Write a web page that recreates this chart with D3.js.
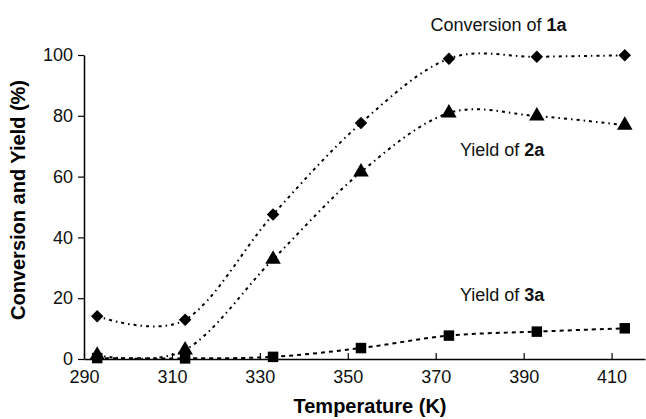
<!DOCTYPE html>
<html>
<head>
<meta charset="utf-8">
<script src="https://cdn.jsdelivr.net/npm/d3@7"></script>
<style>
  body { margin: 0; background: #fff; }
  svg { display: block; font-family: "Liberation Sans", Arial, sans-serif; }
</style>
</head>
<body>
<svg id="chart" width="646" height="419"></svg>
<script>
// data
const temps = [293, 313, 333, 353, 373, 393, 413];
const conv1a = [14.1, 12.9, 47.5, 77.6, 98.8, 99.4, 99.9];
const yield2a = [1.2, 3.0, 32.8, 61.5, 80.9, 79.9, 76.9];
const yield3a = [0.3, 0.2, 0.7, 3.6, 7.7, 9.0, 10.1];
const xTicks = [290, 310, 330, 350, 370, 390, 410];
const yTicks = [0, 20, 40, 60, 80, 100];

const svg = d3.select("#chart");

const x = d3.scaleLinear().domain([290, 417.6]).range([84, 645]);
const y = d3.scaleLinear().domain([0, 100]).range([359, 55]);

// axes
const xAxis = svg.append("g")
  .attr("transform", "translate(0," + y(0) + ")")
  .call(d3.axisBottom(x).tickValues(xTicks).tickSizeInner(-6).tickSizeOuter(0).tickPadding(11));
const yAxis = svg.append("g")
  .attr("transform", "translate(" + x(290) + ",0)")
  .call(d3.axisLeft(y).tickValues(yTicks).tickSizeInner(6).tickSizeOuter(0).tickPadding(5));

[xAxis, yAxis].forEach(function(a) {
  a.select(".domain").attr("stroke", "#000").attr("stroke-width", 1.5);
  a.selectAll(".tick line").attr("stroke", "#000").attr("stroke-width", 1.2);
  a.selectAll("text").attr("fill", "#111").style("font-size", "18px")
    .style("font-family", "'Liberation Sans', Arial, sans-serif");
});
xAxis.selectAll("text").attr("dy", "0.71em");

// axis titles
svg.append("text")
  .attr("x", 370).attr("y", 413)
  .attr("text-anchor", "middle")
  .style("font-size", "20px").style("font-weight", "bold")
  .text("Temperature (K)");

svg.append("text")
  .attr("transform", "translate(25,200) rotate(-90)")
  .attr("text-anchor", "middle")
  .style("font-size", "20px").style("font-weight", "bold")
  .text("Conversion and Yield (%)");

// series
const series = [
  { name: "conv", vals: conv1a, dash: "3,4,1.5,4", sym: d3.symbolSquare, size: 78, rot: 45 },
  { name: "y2a", vals: yield2a, dash: "3,4,1.5,4", sym: d3.symbolTriangle, size: 105, rot: 0 },
  { name: "y3a", vals: yield3a, dash: "4,4", sym: d3.symbolSquare, size: 110, rot: 0 }
];

const line = d3.line()
  .x(d => x(d[0]))
  .y(d => y(d[1]))
  .curve(d3.curveCardinal.tension(0));

series.forEach(function(s) {
  const pts = temps.map((t, i) => [t, s.vals[i]]);
  svg.append("path")
    .datum(pts)
    .attr("d", line)
    .attr("fill", "none")
    .attr("stroke", "#000")
    .attr("stroke-width", 2)
    .attr("stroke-dasharray", s.dash);

  svg.selectAll(".m-" + s.name)
    .data(pts)
    .enter().append("path")
    .attr("class", "m-" + s.name)
    .attr("transform", d => "translate(" + x(d[0]) + "," + y(d[1]) + ") rotate(" + s.rot + ")")
    .attr("d", d3.symbol().type(s.sym).size(s.size))
    .attr("fill", "#000");
});

// series labels
function label(px, py, txt, bold) {
  const t = svg.append("text").attr("x", px).attr("y", py).style("font-size", "18px").attr("fill", "#111");
  t.append("tspan").text(txt);
  t.append("tspan").style("font-weight", "bold").text(bold);
}
label(x(368.8), 31, "Conversion of ", "1a");
label(x(375.5), 156, "Yield of ", "2a");
label(x(375.5), 301, "Yield of ", "3a");
</script>
</body>
</html>
